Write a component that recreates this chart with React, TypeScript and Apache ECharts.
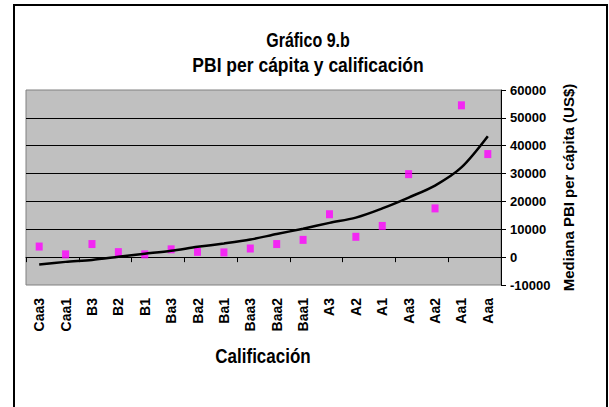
import React, { useEffect, useRef } from "react";
import * as echarts from "echarts";

const categories = ["Caa3", "Caa1", "B3", "B2", "B1", "Ba3", "Ba2", "Ba1", "Baa3", "Baa2", "Baa1", "A3", "A2", "A1", "Aa3", "Aa2", "Aa1", "Aaa"];
const medianGdp = [3800, 1000, 4700, 1800, 1000, 2800, 1900, 1700, 3100, 4700, 6200, 15400, 7300, 11200, 29800, 17500, 54500, 37000];
const trendLine = [-2600, -1700, -1000, 100, 1200, 2300, 3700, 4900, 6300, 8300, 10200, 12300, 14200, 17500, 21400, 25700, 32200, 43400];
const yTicks = { min: -10000, max: 60000, interval: 10000 };

const FONT = "'Liberation Sans', Arial, sans-serif";

export default function App() {
  const ref = useRef<HTMLDivElement>(null);
  useEffect(() => {
    document.body.style.margin = "0";
    const chart = echarts.init(ref.current!, null, { renderer: "svg" });
    chart.setOption({
      animation: false,
      backgroundColor: "#ffffff",
      textStyle: { fontFamily: FONT },
      graphic: [
        { type: "rect", shape: { x: 14, y: 5, width: 593, height: 420 }, style: { fill: "none", stroke: "#000", lineWidth: 2 }, silent: true },
        { type: "text", x: 308, y: 40.5, scaleY: 1.25, style: { text: "Gráfico 9.b", font: `bold 16px ${FONT}`, fill: "#000", align: "center", verticalAlign: "middle" } },
        { type: "text", x: 308, y: 64.5, scaleY: 1.2, style: { text: "PBI per cápita y calificación", font: `bold 17.5px ${FONT}`, fill: "#000", align: "center", verticalAlign: "middle" } },
        { type: "text", x: 263, y: 356, scaleY: 1.2, style: { text: "Calificación", font: `bold 17px ${FONT}`, fill: "#000", align: "center", verticalAlign: "middle" } },
      ],
      grid: { left: 26, right: 108, top: 90, height: 195, show: true, backgroundColor: "#C0C0C0", borderColor: "#808080", borderWidth: 1 },
      xAxis: [
        {
          type: "category", data: categories, position: "bottom",
          axisLine: { show: true, onZero: true, lineStyle: { color: "#000", width: 1 } },
          axisTick: { show: true, length: 5, inside: false, lineStyle: { color: "#000" } },
          axisLabel: { show: false }, splitLine: { show: false },
        },
        {
          type: "category", data: categories, position: "bottom",
          axisLine: { show: false, onZero: false }, axisTick: { show: false },
          axisLabel: { show: true, rotate: 90, margin: 13, color: "#000", fontWeight: "bold", fontSize: 14, fontFamily: FONT, interval: 0 },
          splitLine: { show: false },
        },
      ],
      yAxis: {
        type: "value", position: "right", min: yTicks.min, max: yTicks.max, interval: yTicks.interval,
        axisLine: { show: true, lineStyle: { color: "#000" } },
        axisTick: { show: true, length: 5, inside: false, lineStyle: { color: "#000" } },
        axisLabel: { margin: 9, color: "#000", fontWeight: "bold", fontSize: 13, fontFamily: FONT, formatter: (v: number) => String(v) },
        splitLine: { show: true, showMinLine: false, showMaxLine: false, lineStyle: { color: "#000", width: 1 } },
        name: "Mediana PBI per cápita (US$)", nameLocation: "middle", nameRotate: 90, nameGap: 59,
        nameTextStyle: { color: "#000", fontWeight: "bold", fontSize: 15, fontFamily: FONT },
      },
      series: [
        {
          type: "scatter", name: "Mediana", xAxisIndex: 0, data: medianGdp,
          symbol: "rect", symbolSize: [7, 8], itemStyle: { color: "#FF00FF" }, z: 2,
        },
        {
          type: "line", name: "Tendencia", xAxisIndex: 0, data: trendLine, smooth: 0.3,
          symbol: "none", lineStyle: { color: "#000", width: 2.5 }, z: 3,
        },
      ],
    });
    return () => chart.dispose();
  }, []);
  return <div ref={ref} style={{ width: 609, height: 407 }} />;
}
